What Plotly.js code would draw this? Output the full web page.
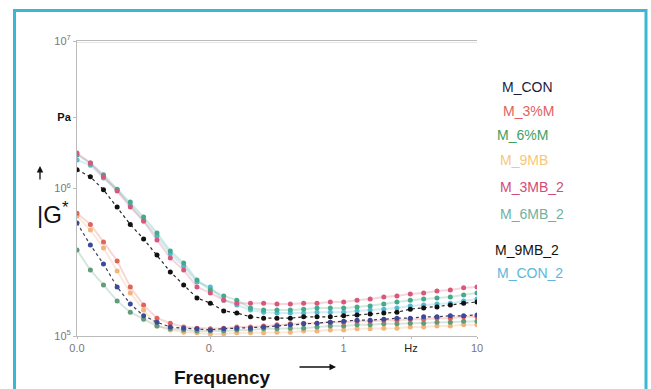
<!DOCTYPE html>
<html>
<head>
<meta charset="utf-8">
<script src="https://cdn.plot.ly/plotly-3.0.1.min.js"></script>
<style>html,body{margin:0;padding:0;background:#fff;}#chart{width:651px;height:389px;}</style>
</head>
<body>
<div id="chart"></div>
<script>
// Frequency (Hz)
const freq = [0.01, 0.0126, 0.0158, 0.02, 0.0251, 0.0316, 0.0398, 0.0501, 0.0631, 0.0794,
              0.1, 0.126, 0.158, 0.2, 0.251, 0.316, 0.398, 0.501, 0.631, 0.794,
              1, 1.26, 1.58, 2, 2.51, 3.16, 3.98, 5.01, 6.31, 7.94, 10];

// |G*| (Pa)
const M_CON = [5.84e5,4.14e5,3.08e5,2.15e5,1.65e5,1.37e5,1.24e5,1.15e5,1.13e5,1.12e5,1.10e5,1.12e5,1.13e5,1.13e5,1.15e5,1.17e5,1.19e5,1.21e5,1.22e5,1.24e5,1.26e5,1.28e5,1.28e5,1.30e5,1.32e5,1.32e5,1.35e5,1.35e5,1.37e5,1.37e5,1.39e5];
const M_3M = [6.8e5,5.7e5,4.34e5,3.23e5,2.15e5,1.62e5,1.32e5,1.22e5,1.15e5,1.13e5,1.12e5,1.13e5,1.15e5,1.15e5,1.17e5,1.19e5,1.21e5,1.22e5,1.22e5,1.24e5,1.24e5,1.26e5,1.26e5,1.28e5,1.28e5,1.30e5,1.30e5,1.32e5,1.32e5,1.35e5,1.35e5];
const M_6M = [3.83e5,2.80e5,2.22e5,1.73e5,1.45e5,1.30e5,1.17e5,1.12e5,1.10e5,1.08e5,1.08e5,1.08e5,1.10e5,1.10e5,1.12e5,1.12e5,1.13e5,1.13e5,1.15e5,1.17e5,1.17e5,1.19e5,1.19e5,1.21e5,1.21e5,1.22e5,1.22e5,1.24e5,1.24e5,1.26e5,1.26e5];
const M_9MB = [6.5e5,5.23e5,3.95e5,2.76e5,1.96e5,1.50e5,1.17e5,1.10e5,1.06e5,1.05e5,1.03e5,1.03e5,1.05e5,1.05e5,1.05e5,1.06e5,1.06e5,1.08e5,1.08e5,1.10e5,1.10e5,1.12e5,1.12e5,1.13e5,1.13e5,1.15e5,1.15e5,1.17e5,1.17e5,1.19e5,1.19e5];
const M_3MB_2 = [1.74e6,1.49e6,1.20e6,9.6e5,7.5e5,6.0e5,4.48e5,3.38e5,2.80e5,2.15e5,1.96e5,1.75e5,1.67e5,1.67e5,1.67e5,1.65e5,1.65e5,1.67e5,1.67e5,1.70e5,1.70e5,1.75e5,1.78e5,1.84e5,1.87e5,1.93e5,1.96e5,2.02e5,2.05e5,2.12e5,2.15e5];
const M_6MB_2 = [1.69e6,1.49e6,1.24e6,9.9e5,8.1e5,6.4e5,5.0e5,3.77e5,3.12e5,2.40e5,2.05e5,1.87e5,1.75e5,1.55e5,1.50e5,1.50e5,1.50e5,1.52e5,1.55e5,1.55e5,1.55e5,1.57e5,1.60e5,1.65e5,1.70e5,1.75e5,1.78e5,1.81e5,1.84e5,1.90e5,1.96e5];
const M_9MB_2 = [1.34e6,1.20e6,9.8e5,7.5e5,5.7e5,4.55e5,3.54e5,2.72e5,2.22e5,1.81e5,1.67e5,1.48e5,1.43e5,1.35e5,1.32e5,1.32e5,1.32e5,1.35e5,1.35e5,1.35e5,1.37e5,1.39e5,1.41e5,1.43e5,1.45e5,1.52e5,1.55e5,1.57e5,1.62e5,1.67e5,1.70e5];
const M_CON_2 = [1.56e6,1.44e6,1.18e6,9.8e5,7.7e5,6.1e5,4.76e5,3.60e5,2.98e5,2.32e5,2.15e5,1.75e5,1.62e5,1.50e5,1.45e5,1.43e5,1.43e5,1.43e5,1.45e5,1.45e5,1.45e5,1.48e5,1.50e5,1.52e5,1.55e5,1.60e5,1.62e5,1.65e5,1.67e5,1.73e5,1.78e5];

const names = ["M_CON","M_3%M","M_6%M","M_9MB","M_3MB_2","M_6MB_2","M_9MB_2","M_CON_2"];
const values = [M_CON, M_3M, M_6M, M_9MB, M_3MB_2, M_6MB_2, M_9MB_2, M_CON_2];
const markerColors = ["#3d4a9c","#e0645c","#5f9c78","#f2b47a","#d8587a","#45a98c","#111111","#55b9d2"];
const lineColors = ["rgba(30,30,60,0.85)","rgba(224,100,92,0.25)","rgba(95,156,120,0.25)","rgba(242,180,122,0.3)","rgba(216,88,122,0.25)","rgba(69,169,140,0.25)","rgba(0,0,0,0.85)","rgba(85,185,210,0.25)"];
const lineDash = ["dot","solid","solid","solid","solid","solid","dot","solid"];
const legendText = ["#1c1c3c","#e06262","#3fa064","#f7c878","#d44a78","#6fb2a0","#111111","#5cb8da"];
const drawOrder = [7,5,4,6,3,2,1,0];

// Tick labels
const xTickVals = [0.01, 0.1, 1, 3.2, 10];
const xTickText = ["0.0", "0.", "1", "<span style='color:#222'>Hz</span>", "10"];
const yTickVals = [1e5, 1e6, 3.05e6, 1e7];
const yTickText = ["10<sup>5</sup>", "10<sup>6</sup>", "<span style='color:#111'><b>Pa</b></span>", "10<sup>7</sup>"];

const L = 77, T = 41, W = 400, H = 295;
const px = x => (x - L) / W;
const py = y => 1 - (y - T) / H;

const traces = drawOrder.map(i => ({
  x: freq, y: values[i], name: names[i], type: "scatter", mode: "lines+markers",
  line: {color: lineColors[i], width: lineDash[i] === "dot" ? 1.2 : 2, dash: lineDash[i]},
  marker: {color: markerColors[i], size: 5},
  showlegend: false
}));

const legY = [87, 111, 135, 160, 187, 214, 250, 273];
const legX = [527, 528, 522, 524, 532, 532, 527, 530];
const annotations = names.map((n, i) => ({
  xref: "paper", yref: "paper", x: px(legX[i]), y: py(legY[i]),
  xanchor: "center", yanchor: "middle", showarrow: false,
  text: n, font: {family: "Liberation Sans, Arial, sans-serif", size: 14, color: legendText[i]}
}));
annotations.push({xref:"paper", yref:"paper", x: px(53), y: py(213), xanchor:"center", yanchor:"middle", showarrow:false,
  text:"|G<sup>*</sup>", font:{family:"Liberation Sans, Arial, sans-serif", size:24, color:"#111"}});
annotations.push({xref:"paper", yref:"paper", x: px(222), y: py(377), xanchor:"center", yanchor:"middle", showarrow:false,
  text:"<b>Frequency</b>", font:{family:"Liberation Sans, Arial, sans-serif", size:19, color:"#111"}});
annotations.push({xref:"paper", yref:"paper", x: px(336), y: py(367), ax: -38, ay: 0, text:"", showarrow:true,
  arrowhead:2, arrowsize:1, arrowwidth:1.3, arrowcolor:"#111"});
annotations.push({xref:"paper", yref:"paper", x: px(40), y: py(166), ax: 0, ay: 15, text:"", showarrow:true,
  arrowhead:2, arrowsize:1, arrowwidth:1.3, arrowcolor:"#111"});

const layout = {
  width: 651, height: 389,
  margin: {l: L, r: 651 - L - W, t: T, b: 389 - T - H},
  paper_bgcolor: "#ffffff", plot_bgcolor: "#ffffff",
  font: {family: "Liberation Sans, Arial, sans-serif", size: 10, color: "#777"},
  showlegend: false,
  xaxis: {type: "log", range: [-2, 1], tickvals: xTickVals, ticktext: xTickText,
    showgrid: false, zeroline: false, showline: true, linecolor: "#bbbbbb", linewidth: 1, mirror: true,
    ticks: "outside", ticklen: 2, tickcolor: "#bbb", tickfont: {size: 11, color: "#777"}},
  yaxis: {type: "log", range: [5, 7], tickvals: yTickVals, ticktext: yTickText,
    showgrid: false, zeroline: false, showline: true, linecolor: "#bbbbbb", linewidth: 1,
    ticks: "outside", ticklen: 3, tickcolor: "#bbb", tickfont: {size: 11, color: "#777"}},
  annotations: annotations,
  shapes: [
    {type: "line", xref: "paper", yref: "paper", x0: 0, x1: 1, y0: 0.995, y1: 0.995, line: {color: "#e6e6e6", width: 1}},
    {type: "rect", xref: "paper", yref: "paper", x0: px(14.5), x1: px(646), y0: py(10.5), y1: py(400),
     line: {color: "#3bb7d6", width: 3}, fillcolor: "rgba(0,0,0,0)", layer: "above"}
  ]
};

Plotly.newPlot("chart", traces, layout, {staticPlot: true, displayModeBar: false});
</script>
</body>
</html>
